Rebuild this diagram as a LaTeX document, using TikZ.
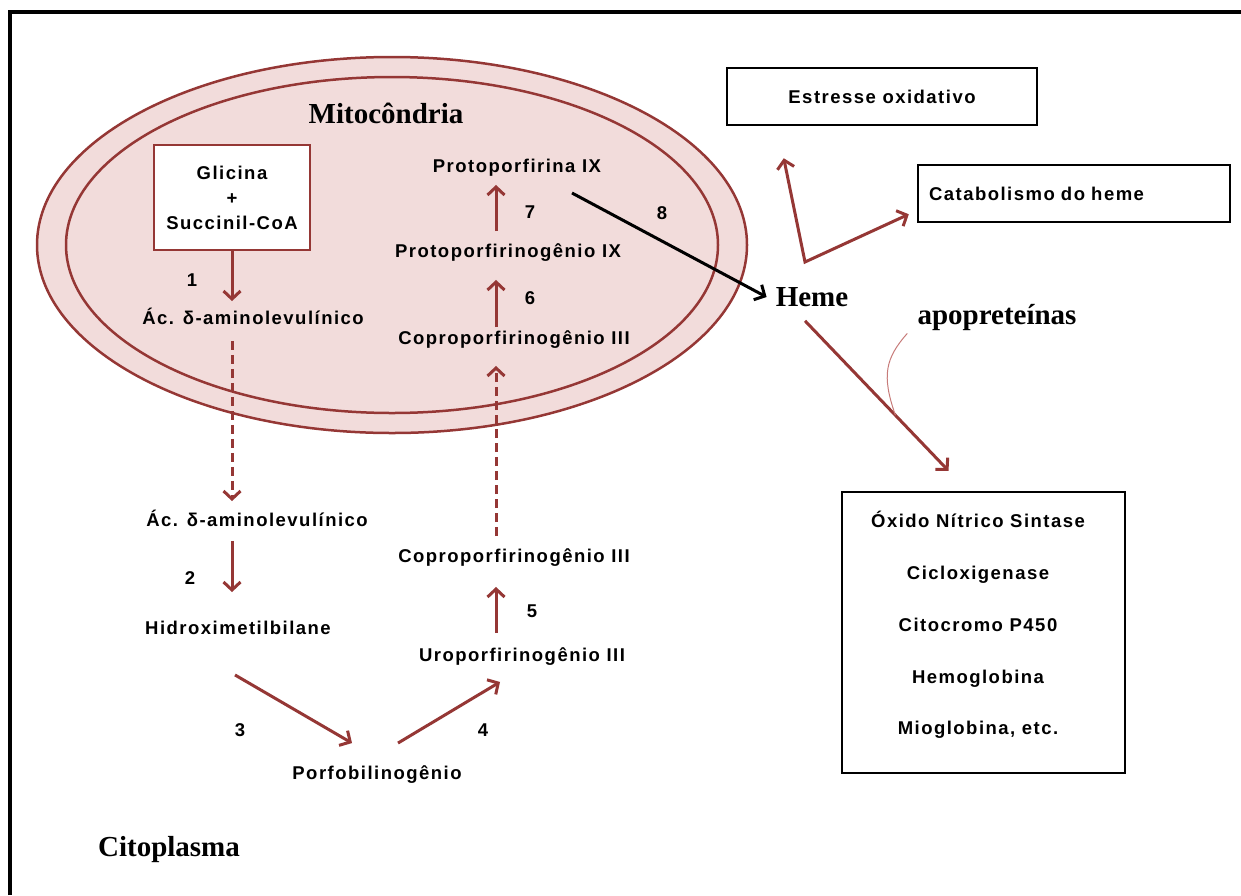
\documentclass[tikz,border=0pt]{standalone}
\usepackage{fontspec}
\setmainfont{Liberation Serif}
\newfontfamily\lblfont[LetterSpace=8]{Liberation Sans}
\usetikzlibrary{arrows.meta}

\definecolor{mitored}{HTML}{953735}
\definecolor{mitopink}{HTML}{F2DCDB}
\definecolor{hookred}{HTML}{C77B79}

\begin{document}
\begin{tikzpicture}[x=1pt, y=-1pt,
  every node/.style={font=\lblfont\bfseries\fontsize{18.5}{25}\selectfont, inner sep=2pt},
  chem/.style={text height=13.5pt, text depth=4pt},
  regionlabel/.style={font=\rmfamily\bfseries\fontsize{29}{32}\selectfont},
  redarrow/.style={draw=mitored, line width=3pt, -{Straight Barb[length=8pt,width=17pt]}},
  dasharrow/.style={redarrow, dash pattern=on 9pt off 5pt},
  outbox/.style={draw, line width=2.5pt, fill=white, minimum height=57pt}]
\useasboundingbox (0,0) rectangle (1241,895);

% cell
\draw[line width=4pt] (10,895) -- (10,12) -- (1241,12);

% mitochondrion
\draw[mitored, line width=2.5pt, fill=mitopink] (392,245) ellipse [x radius=355, y radius=188];
\draw[mitored, line width=2.5pt] (392,245) ellipse [x radius=326, y radius=168];

\node[regionlabel] (mito) at (386,113) {Mitocôndria};
\node[regionlabel] (cito) at (169,850) {Citoplasma};
\node[regionlabel] (heme) at (812,297) {Heme};
\node[regionlabel] (apo) at (997,318) {apopreteínas};

\node[draw=mitored, line width=2.5pt, fill=white, minimum width=156pt, minimum height=105pt, align=center] (glicina) at (232,197.5)
{Glicina\\+\\Succinil-CoA};

\node[chem] (ala1) at (253,320) {Ác. δ-aminolevulínico};
\node[chem] (ala2) at (257,522) {Ác. δ-aminolevulínico};
\node[chem] (hmb) at (238,630) {Hidroximetilbilane};
\node[chem] (pbg) at (377,775) {Porfobilinogênio};
\node[chem] (uro) at (522,657) {Uroporfirinogênio III};
\node[chem] (copro2) at (514,558) {Coproporfirinogênio III};
\node[chem] (copro1) at (514,340) {Coproporfirinogênio III};
\node[chem] (protogen) at (508,253) {Protoporfirinogênio IX};
\node[chem] (proto) at (517,168) {Protoporfirina IX};

\node (n1) at (192,280) {1};
\node (n2) at (190,578) {2};
\node (n3) at (240,730) {3};
\node (n4) at (483,730) {4};
\node (n5) at (532,611) {5};
\node (n6) at (530,298) {6};
\node (n7) at (530,212) {7};
\node (n8) at (662,213) {8};

\node[outbox, minimum width=310pt] (estresse) at (882,96.5) {Estresse oxidativo};
\node[outbox, minimum width=312pt, text width=290pt, align=left] (catab) at (1074,193.5) {Catabolismo do heme};
\node[outbox, minimum width=283pt, minimum height=281pt] (proteins) at (983.5,632.5) {};
\node[align=center, font=\lblfont\bfseries\fontsize{18.5}{51.75}\selectfont] (protlist) at (978,625)
{Óxido Nítrico Sintase\\Cicloxigenase\\Citocromo P450\\Hemoglobina\\Mioglobina, etc.};

% pathway
\draw[redarrow] (glicina.south) -- ([xshift=-21pt,yshift=8pt]ala1.north);
\draw[dasharrow] ([xshift=-21pt,yshift=-10pt]ala1.south) -- ([xshift=-25pt,yshift=10pt]ala2.north);
\draw[redarrow] ([xshift=-25pt,yshift=-8pt]ala2.south) -- ([xshift=-6pt,yshift=27pt]hmb.north);
\draw[redarrow] ([xshift=-3pt,yshift=-34pt]hmb.south) -- ([xshift=-25pt,yshift=21pt]pbg.north);
\draw[redarrow] ([xshift=21pt,yshift=21pt]pbg.north) -- ([xshift=-22pt,yshift=-14pt]uro.south);
\draw[redarrow] ([xshift=-26pt,yshift=13pt]uro.north) -- ([xshift=-18pt,yshift=-18pt]copro2.south);
\draw[dasharrow] ([xshift=-18pt,yshift=11pt]copro2.north) -- ([xshift=-18pt,yshift=-15pt]copro1.south);
\draw[redarrow] ([xshift=-18pt,yshift=2pt]copro1.north) -- ([xshift=-12pt,yshift=-16pt]protogen.south);
\draw[redarrow] ([xshift=-12pt,yshift=11pt]protogen.north) -- ([xshift=-21pt,yshift=-6pt]proto.south);
\draw[line width=3pt, -{Straight Barb[length=8pt,width=17pt]}] ([xshift=55pt,yshift=-25pt]proto.center) -- ([xshift=-7pt]heme.west);

% heme fate
\coordinate (fork) at (805,262);
\draw[redarrow, {Straight Barb[length=8pt,width=17pt]}-{Straight Barb[length=8pt,width=17pt]}]
  ([xshift=58pt,yshift=-32pt]estresse.south west) -- (fork) -- ([xshift=-8pt,yshift=9pt]catab.south west);
\draw[redarrow] ([xshift=-7pt,yshift=-12pt]heme.south) -- coordinate[pos=0.63] (hook) ([xshift=-35pt,yshift=20pt]proteins.north);
\draw[hookred, line width=1pt] ([xshift=-8pt]apo.south west) .. controls +(-22,25) and +(-14,-40) .. (hook);
\end{tikzpicture}
\end{document}
